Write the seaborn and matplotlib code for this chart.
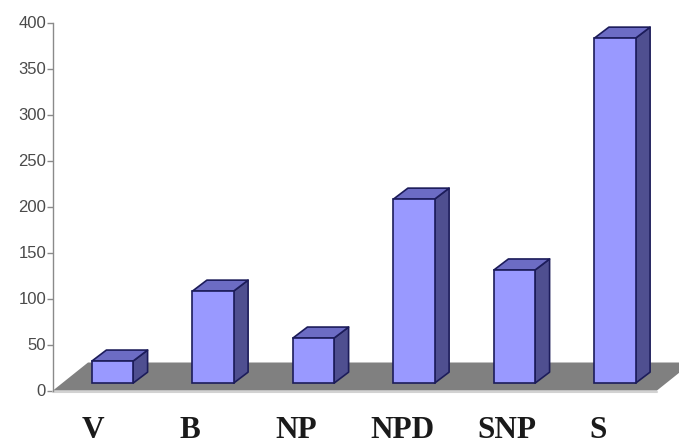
import matplotlib
matplotlib.use("Agg")
import matplotlib.pyplot as plt
from matplotlib.patches import Polygon
import seaborn as sns

categories = ["V", "B", "NP", "NPD", "SNP", "S"]
values = [24, 100, 49, 200, 123, 375]
y_ticks = [0, 50, 100, 150, 200, 250, 300, 350, 400]

FRONT, SIDE, TOP, EDGE = "#9999FF", "#4F4F90", "#6C6CC4", "#1C1C5A"
W, H = 679, 446
sns.set_theme(style="white")
plt.rcParams["font.family"] = ["Liberation Sans", "DejaVu Sans"]

fig = plt.figure(figsize=(W / 100, H / 100), dpi=100, facecolor="white")
ax = fig.add_axes([53 / W, (H - 390.5) / H, (657 - 53) / W, (390.5 - 22.5) / H])

BASE = 8          # bars stand on the middle of the floor
sns.barplot(x=categories, y=values, bottom=BASE, width=0.41, color=FRONT,
            saturation=1, edgecolor=EDGE, linewidth=1.2, ax=ax, zorder=3)
ax.set_xlim(-0.592, 5.418)
ax.set_ylim(0, 400)

# depth of the fake 3D extrusion in data units
px_x = 1 / 100.5
px_y = 400 / 368
dx, dy = 14.5 * px_x, 11 * px_y
floor_dx, floor_dy = 35 * px_x, 28 * px_y

x0, x1 = ax.get_xlim()
ax.add_patch(Polygon([(x0, 0), (x1, 0), (x1 + floor_dx, floor_dy), (x0 + floor_dx, floor_dy)],
                     closed=True, facecolor="#808080", edgecolor="none", zorder=1, clip_on=False))
ax.plot([x0, x1], [-1.2, -1.2], color="#D2D2D2", lw=1.5, clip_on=False, zorder=1)

for bar in list(ax.patches):
    if not hasattr(bar, "get_width"):
        continue
    l, b, w, h = bar.get_x(), bar.get_y(), bar.get_width(), bar.get_height()
    r, t = l + w, b + h
    ax.add_patch(Polygon([(r, b), (r + dx, b + dy), (r + dx, t + dy), (r, t)], closed=True,
                         facecolor=SIDE, edgecolor=EDGE, lw=1.2, zorder=2.5, clip_on=False, joinstyle="round"))
    ax.add_patch(Polygon([(l, t), (r, t), (r + dx, t + dy), (l + dx, t + dy)], closed=True,
                         facecolor=TOP, edgecolor=EDGE, lw=1.2, zorder=2.5, clip_on=False, joinstyle="round"))

for s in ["top", "right", "bottom"]:
    ax.spines[s].set_visible(False)
ax.spines["left"].set_color("#8A8A8A")
ax.spines["left"].set_linewidth(1.0)
ax.patch.set_alpha(0)

ax.set_yticks(y_ticks)
ax.tick_params(axis="y", left=True, length=4, width=1, color="#8A8A8A", pad=1,
               labelsize=12, labelcolor="#4A4A4A")
ax.set_xticks([])
ax.set_xlabel("")
ax.set_ylabel("")

label_shift = [-20, -23, -17, -12, -8, -17]
for i, (name, sh) in enumerate(zip(categories, label_shift)):
    ax.annotate(name, xy=(i, 0), xycoords=("data", "data"), xytext=(sh * 0.72, -28.5),
                textcoords="offset points", ha="center", va="center",
                family="Liberation Serif", weight="bold", fontsize=22.5, color="#1A1A1A",
                annotation_clip=False)

fig.savefig("out.png", dpi=100)
